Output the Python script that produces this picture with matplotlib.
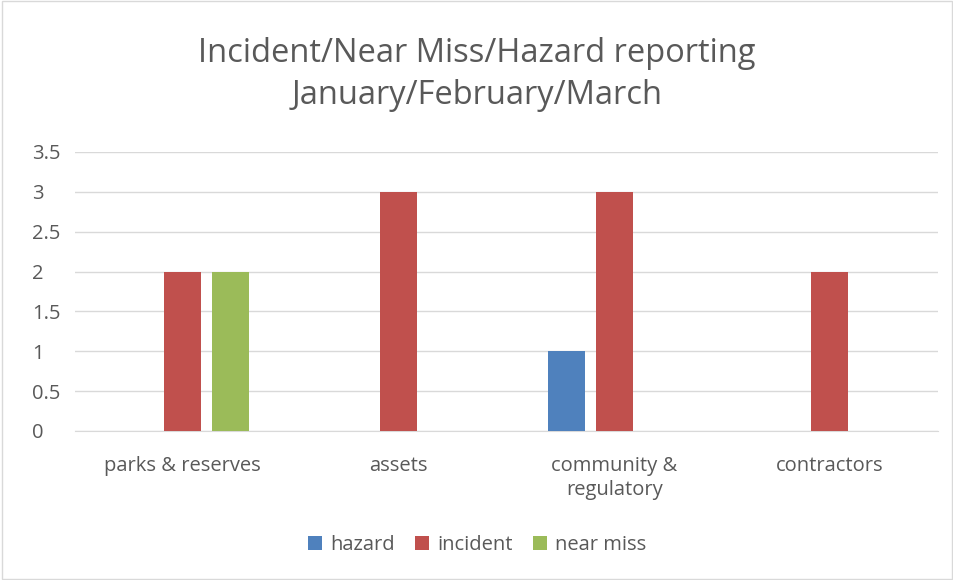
import numpy as np
import matplotlib.pyplot as plt
from matplotlib.patches import Rectangle

categories = ["parks & reserves", "assets", "community &\nregulatory", "contractors"]
series_names = ["hazard", "incident", "near miss"]
hazard = [0, 0, 1, 0]
incident = [2, 3, 3, 2]
near_miss = [2, 0, 0, 0]
colors = ["#4f81bd", "#c0504d", "#9bbb59"]

plt.rcParams['font.family'] = ['Open Sans', 'DejaVu Sans']

fig = plt.figure(figsize=(9.54, 5.8), dpi=100)
ax = fig.add_axes([0.0786, 0.257, 0.9044, 0.481])

x = np.arange(len(categories))
width = 0.171
step = 0.222
for i, (vals, name) in enumerate(zip([hazard, incident, near_miss], series_names)):
    ax.bar(x + (i - 1) * step, vals, width, color=colors[i], label=name, zorder=3)

ax.set_xlim(-0.5, len(categories) - 0.5)
ax.set_ylim(0, 3.5)
ax.set_yticks(np.arange(0, 3.51, 0.5))
ax.set_yticklabels(["0", "0.5", "1", "1.5", "2", "2.5", "3", "3.5"])
ax.set_xticks(x)
ax.set_xticklabels(categories, fontsize=14.5, color="#595959", linespacing=1.3)
ax.tick_params(axis='y', labelsize=14.5, labelcolor="#595959", length=0, pad=31)
ax.tick_params(axis='x', length=0, pad=18)
for lbl in ax.get_yticklabels():
    lbl.set_horizontalalignment('left')
ax.grid(axis='y', color="#d9d9d9", linewidth=1, zorder=0)
for s in ["top", "right", "left"]:
    ax.spines[s].set_visible(False)
ax.spines["bottom"].set_color("#d9d9d9")

fig.text(0.5, 1 - 74.5 / 580, "Incident/Near Miss/Hazard reporting\nJanuary/February/March",
         ha="center", va="center", fontsize=23.5, color="#595959", linespacing=1.4)

fig.legend(loc="center", bbox_to_anchor=(0.5, 1 - 545 / 580), ncol=3, frameon=False,
           fontsize=14.5, handlelength=0.7, handleheight=0.7, columnspacing=1.0,
           handletextpad=0.4, labelcolor="#595959")

fig.patches.append(Rectangle((0.002, 0.002), 0.996, 0.996, transform=fig.transFigure,
                             fill=False, edgecolor="#d9d9d9", linewidth=1))

fig.savefig("out.png", dpi=100)
